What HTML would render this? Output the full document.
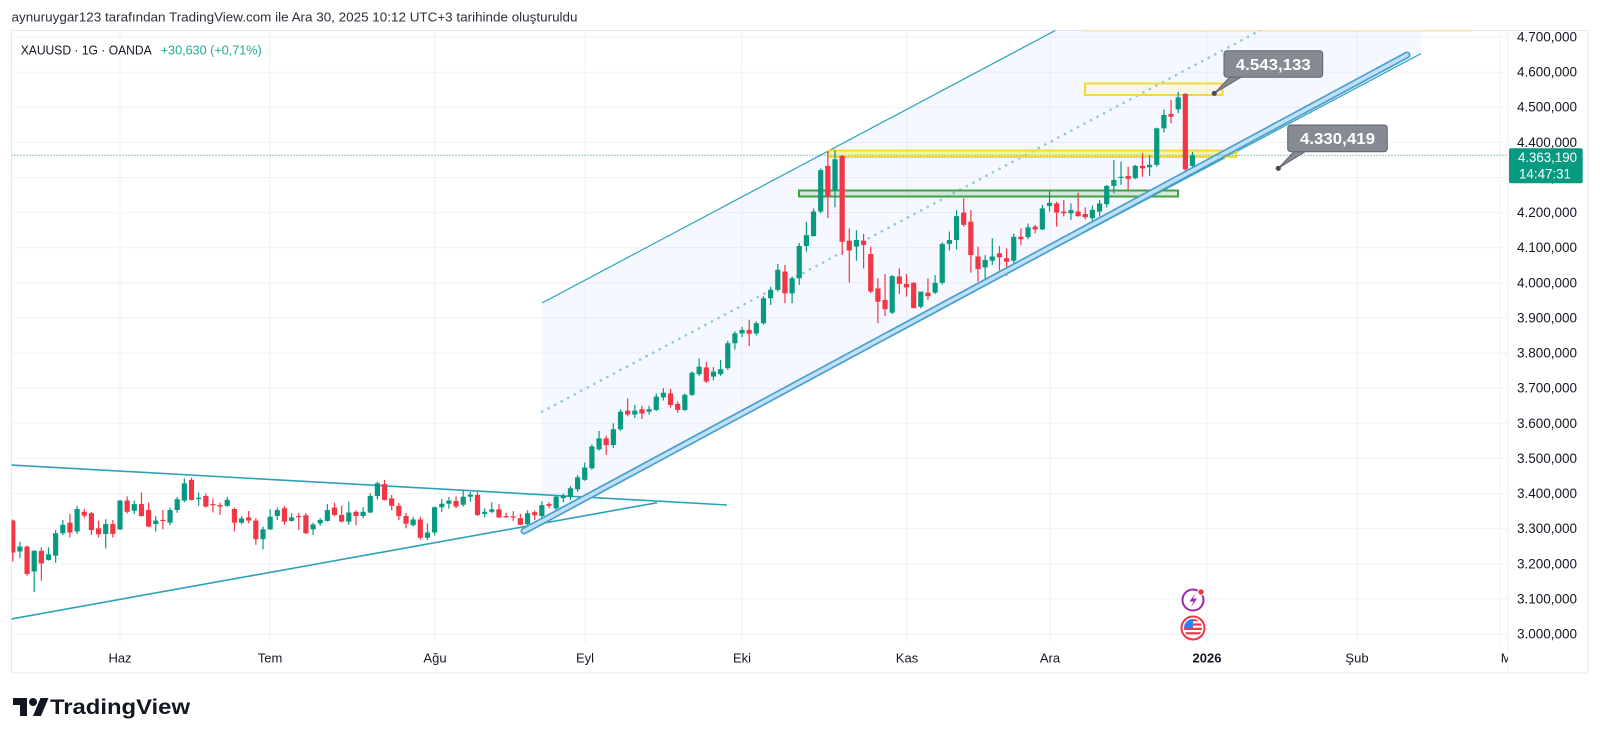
<!DOCTYPE html>
<html>
<head>
<meta charset="utf-8">
<style>
html,body{margin:0;padding:0;background:#fff;}
body{width:1600px;height:741px;overflow:hidden;}
svg{display:block;}
text{font-family:"Liberation Sans","DejaVu Sans",sans-serif;}
</style>
</head>
<body>
<svg id="s" width="1600" height="741" viewBox="0 0 1600 741" xmlns="http://www.w3.org/2000/svg">
  <defs>
    <clipPath id="pane"><rect x="11.5" y="30.5" width="1496.5" height="612.5"/></clipPath>
    <clipPath id="taxis"><rect x="11.5" y="643" width="1496.5" height="30"/></clipPath>
    <clipPath id="flagc"><circle cx="1193" cy="628" r="9"/></clipPath>
  </defs>
  <rect x="0" y="0" width="1600" height="741" fill="#ffffff"/>

  <!-- header -->
  <text x="11.5" y="21.7" font-size="13" fill="#2a2e39" textLength="566" lengthAdjust="spacingAndGlyphs">aynuruygar123 tarafından TradingView.com ile Ara 30, 2025 10:12 UTC+3 tarihinde oluşturuldu</text>

  <!-- outer frame -->
  <rect x="11.5" y="30.5" width="1576.5" height="642.5" fill="#ffffff" stroke="#e6e8ee" stroke-width="1"/>

  <!-- grid -->
  <g id="grid" stroke="#f0f2f6" stroke-width="1"></g>

  <g clip-path="url(#pane)">
    <!-- channel fill -->
    <polygon points="542,303 1421,-163.7 1421,53.6 542,520.4" fill="#2962ff" fill-opacity="0.045"/>
    <!-- top yellow line -->
    <line x1="1083" y1="30.5" x2="1472" y2="30.5" stroke="#f7e48a" stroke-width="2"/>
    <!-- channel upper -->
    <line x1="542" y1="303" x2="1421" y2="-163.7" stroke="#2aa3b6" stroke-width="1.2"/>
    <!-- channel middle dotted -->
    <line x1="542" y1="411.7" x2="1421" y2="-55" stroke="#93c6de" stroke-width="2.6" stroke-dasharray="0.1 7.3" stroke-linecap="round"/>
    <!-- channel lower thin -->
    <line x1="542" y1="520.4" x2="1421" y2="53.6" stroke="#2aa3b6" stroke-width="1.2"/>
    <!-- triangle lines -->
    <line x1="11" y1="465" x2="727" y2="505" stroke="#2aa3b6" stroke-width="1.6"/>
    <line x1="11" y1="619" x2="657" y2="502.7" stroke="#2aa3b6" stroke-width="1.6"/>

    <!-- green zone -->
    <rect x="799" y="190.5" width="379" height="6" fill="#4caf50" fill-opacity="0.22" stroke="#43a047" stroke-width="2"/>
    <!-- yellow zone 4370 -->
    <rect x="828.5" y="150.5" width="408" height="6.5" fill="#ffeb3b" fill-opacity="0.45" stroke="#f5d83a" stroke-width="2"/>
    <!-- yellow zone 4543 -->
    <rect x="1085" y="83.5" width="137.5" height="11.5" fill="#ffeb3b" fill-opacity="0.12" stroke="#f5d83a" stroke-width="2"/>

    <!-- candles -->
    <g id="candles"></g>

    <!-- blue band trendline -->
    <line x1="524" y1="531" x2="1407" y2="55" stroke="#4a9fd0" stroke-width="7" stroke-linecap="round"/>
    <line x1="524" y1="531" x2="1407" y2="55" stroke="#c0e0f5" stroke-width="3.6" stroke-linecap="round"/>

    <!-- current price dotted line -->
    <line x1="11.5" y1="155.3" x2="1508" y2="155.3" stroke="#089981" stroke-width="1" stroke-dasharray="1 2"/>

    <!-- event icons -->
    <circle cx="1193" cy="600" r="10.5" fill="#ffffff" stroke="#9c27b0" stroke-width="2"/>
    <path d="M1195.5,593 L1189.5,601.5 L1193.5,601.5 L1191,607.5 L1197,598.5 L1193,598.5 Z" fill="#9c27b0"/>
    <circle cx="1201" cy="592" r="3.2" fill="#f23645" stroke="#fff" stroke-width="1"/>
    <circle cx="1193" cy="628" r="11.5" fill="#ffffff" stroke="#f23645" stroke-width="2"/>
    <g clip-path="url(#flagc)">
      <rect x="1184" y="619" width="18" height="18" fill="#ffffff"/>
      <rect x="1184" y="619" width="18" height="2.2" fill="#f23645"/>
      <rect x="1184" y="623.4" width="18" height="2.2" fill="#f23645"/>
      <rect x="1184" y="627.8" width="18" height="2.2" fill="#f23645"/>
      <rect x="1184" y="632.2" width="18" height="2.2" fill="#f23645"/>
      <rect x="1184" y="619" width="9" height="9" fill="#2f80ed"/>
    </g>
  </g>

  <!-- callouts -->
  <g>
    <path d="M1231,76 L1214.3,93.3 L1243,76 Z" fill="#868a93" stroke="#5f626b" stroke-width="1"/>
    <rect x="1224" y="50.7" width="98.7" height="26.6" rx="3" fill="#868a93" stroke="#5f626b" stroke-width="1"/>
    <circle cx="1214.3" cy="93.3" r="2.6" fill="#4a4d55"/>
    <text x="1273.3" y="69.8" font-size="16" font-weight="bold" fill="#ffffff" text-anchor="middle" textLength="75" lengthAdjust="spacingAndGlyphs">4.543,133</text>

    <path d="M1295,150.5 L1278.3,168.3 L1307,150.5 Z" fill="#868a93" stroke="#5f626b" stroke-width="1"/>
    <rect x="1287.7" y="125" width="99.6" height="26.7" rx="3" fill="#868a93" stroke="#5f626b" stroke-width="1"/>
    <circle cx="1278.3" cy="168.3" r="2.6" fill="#4a4d55"/>
    <text x="1337.5" y="144" font-size="16" font-weight="bold" fill="#ffffff" text-anchor="middle" textLength="75" lengthAdjust="spacingAndGlyphs">4.330,419</text>
  </g>

  <!-- symbol line -->
  <text x="20.7" y="54.5" font-size="13" fill="#131722" textLength="131" lengthAdjust="spacingAndGlyphs">XAUUSD · 1G · OANDA</text>
  <text x="160.7" y="54.5" font-size="13" fill="#22ab94" textLength="101" lengthAdjust="spacingAndGlyphs">+30,630 (+0,71%)</text>

  <!-- axis separators -->
  <line x1="1508" y1="30.5" x2="1508" y2="673" stroke="#f0f2f6" stroke-width="1"/>

  <!-- price labels -->
  <g font-size="13.5" fill="#131722" text-anchor="end">
    <text x="1577" y="41.5">4.700,000</text>
    <text x="1577" y="76.6">4.600,000</text>
    <text x="1577" y="111.7">4.500,000</text>
    <text x="1577" y="146.9">4.400,000</text>
    <text x="1577" y="182">4.300,000</text>
    <text x="1577" y="217.1">4.200,000</text>
    <text x="1577" y="252.2">4.100,000</text>
    <text x="1577" y="287.3">4.000,000</text>
    <text x="1577" y="322.5">3.900,000</text>
    <text x="1577" y="357.6">3.800,000</text>
    <text x="1577" y="392.7">3.700,000</text>
    <text x="1577" y="427.8">3.600,000</text>
    <text x="1577" y="462.9">3.500,000</text>
    <text x="1577" y="498.1">3.400,000</text>
    <text x="1577" y="533.2">3.300,000</text>
    <text x="1577" y="568.3">3.200,000</text>
    <text x="1577" y="603.4">3.100,000</text>
    <text x="1577" y="638.5">3.000,000</text>
  </g>

  <!-- current price label -->
  <rect x="1509" y="148.3" width="73.7" height="35" rx="2" fill="#089981"/>
  <text x="1577" y="162" font-size="13.5" fill="#ffffff" text-anchor="end" textLength="59" lengthAdjust="spacingAndGlyphs">4.363,190</text>
  <text x="1571" y="178.5" font-size="13.5" fill="#ffffff" text-anchor="end" textLength="52" lengthAdjust="spacingAndGlyphs">14:47:31</text>

  <!-- time labels -->
  <g font-size="13" fill="#131722" text-anchor="middle" clip-path="url(#taxis)">
    <text x="120" y="662.5">Haz</text>
    <text x="270" y="662.5">Tem</text>
    <text x="435" y="662.5">Ağu</text>
    <text x="585" y="662.5">Eyl</text>
    <text x="742" y="662.5">Eki</text>
    <text x="907" y="662.5">Kas</text>
    <text x="1050" y="662.5">Ara</text>
    <text x="1207" y="662.5" font-weight="bold">2026</text>
    <text x="1357" y="662.5">Şub</text>
    <text x="1512" y="662.5">Mar</text>
  </g>

  <!-- logo -->
  <g transform="translate(13,694)" fill="#131722">
    <path d="M14 22H7V11H0V4h14v18z"/>
    <circle cx="20" cy="8" r="4"/>
    <path d="M28 22h-8l7.5-18h8L28 22z"/>
  </g>
  <text x="50" y="714" font-size="21" font-weight="bold" fill="#131722" textLength="140" lengthAdjust="spacingAndGlyphs">TradingView</text>
</svg>
<script>
(function(){
  var NS="http://www.w3.org/2000/svg";
  function Y(p){return 37+(4700-p)*0.35118;}
  function X(i){return 120+7.15*i;}
  var g=document.getElementById("grid");
  var vx=[120,270,435,585,742,907,1050,1207,1357,1500];
  vx.forEach(function(x){var l=document.createElementNS(NS,"line");l.setAttribute("x1",x);l.setAttribute("x2",x);l.setAttribute("y1",30.5);l.setAttribute("y2",643);g.appendChild(l);});
  for(var p=4700;p>=3000;p-=100){var y=Y(p);var l=document.createElementNS(NS,"line");l.setAttribute("x1",11.5);l.setAttribute("x2",1508);l.setAttribute("y1",y);l.setAttribute("y2",y);g.appendChild(l);}
  var d=[
[-15,3323,3326,3206,3232],[-14,3235,3263,3216,3249],[-13,3249,3252,3166,3171],[-12,3178,3239,3119,3237],
[-11,3237,3247,3152,3201],[-10,3211,3247,3209,3227],[-9,3223,3296,3203,3287],[-8,3287,3325,3282,3311],
[-7,3317,3342,3275,3289],[-6,3292,3365,3285,3356],[-5,3348,3356,3330,3337],[-4,3344,3348,3282,3296],
[-3,3301,3323,3275,3284],[-2,3285,3327,3244,3313],[-1,3313,3325,3275,3285],
[0,3298,3382,3296,3380],[1,3380,3392,3343,3348],[2,3351,3380,3342,3370],[3,3370,3403,3334,3336],
[4,3353,3374,3304,3306],[5,3313,3336,3292,3323],[6,3325,3353,3298,3322],[7,3317,3360,3310,3353],
[8,3353,3390,3345,3384],[9,3380,3443,3375,3429],[10,3439,3445,3380,3382],[11,3384,3403,3365,3388],
[12,3393,3400,3360,3363],[13,3370,3386,3346,3368],[14,3367,3374,3339,3363],[15,3365,3391,3362,3382],
[16,3356,3360,3292,3317],[17,3317,3336,3312,3329],[18,3332,3350,3315,3323],[19,3323,3330,3254,3270],
[20,3270,3306,3241,3298],[21,3298,3355,3296,3334],[22,3336,3360,3325,3353],[23,3358,3365,3311,3320],
[24,3322,3344,3320,3332],[25,3336,3345,3296,3334],[26,3338,3345,3284,3287],[27,3298,3317,3282,3312],
[28,3315,3330,3308,3325],[29,3322,3370,3320,3353],[30,3360,3374,3336,3339],[31,3339,3365,3318,3320],
[32,3320,3377,3311,3346],[33,3348,3352,3309,3336],[34,3336,3361,3330,3348],[35,3346,3401,3344,3393],
[36,3393,3434,3383,3429],[37,3427,3439,3380,3382],[38,3386,3396,3352,3365],[39,3365,3373,3324,3336],
[40,3336,3345,3301,3314],[41,3310,3334,3306,3326],[42,3326,3334,3268,3274],[43,3274,3315,3268,3289],
[44,3289,3363,3281,3361],[45,3361,3385,3347,3371],[46,3371,3390,3357,3380],[47,3379,3392,3358,3363],
[48,3368,3408,3363,3391],[49,3391,3405,3377,3397],[50,3396,3404,3336,3339],[51,3342,3358,3332,3348],
[52,3348,3375,3344,3355],[53,3355,3370,3330,3332],[54,3336,3345,3330,3335],[55,3335,3350,3322,3332],
[56,3330,3342,3310,3311],[57,3313,3352,3310,3344],[58,3347,3352,3324,3338],[59,3336,3378,3320,3367],
[60,3370,3375,3358,3365],[61,3358,3393,3352,3391],[62,3387,3400,3375,3393],[63,3391,3422,3382,3415],
[64,3412,3453,3405,3446],[65,3439,3488,3436,3474],[66,3472,3540,3468,3534],[67,3526,3578,3522,3557],
[68,3557,3565,3510,3538],[69,3538,3600,3530,3583],[70,3583,3640,3578,3633],[71,3636,3671,3620,3625],
[72,3625,3652,3615,3636],[73,3640,3650,3612,3628],[74,3633,3650,3625,3640],[75,3638,3685,3635,3676],
[76,3674,3700,3665,3687],[77,3685,3698,3645,3652],[78,3655,3662,3630,3638],[79,3638,3685,3635,3681],
[80,3681,3748,3678,3744],[81,3740,3785,3735,3761],[82,3759,3775,3715,3719],[83,3733,3760,3722,3747],
[84,3740,3780,3735,3754],[85,3757,3835,3752,3828],[86,3828,3862,3810,3856],[87,3856,3875,3845,3866],
[88,3866,3895,3820,3855],[89,3856,3890,3850,3885],[90,3885,3962,3880,3956],[91,3956,3989,3937,3980],
[92,3980,4054,3975,4037],[93,4032,4051,3942,3970],[94,3970,4018,3942,4013],[95,4013,4113,3994,4105],
[96,4105,4174,4089,4136],[97,4133,4212,4132,4203],[98,4203,4326,4198,4321],[99,4333,4374,4184,4247],
[100,4264,4378,4215,4352],[101,4361,4364,4079,4117],[102,4120,4155,4001,4092],[103,4103,4150,4063,4122],
[104,4120,4139,4041,4108],[105,4082,4103,3970,3975],[106,3984,4013,3885,3946],[107,3951,4025,3906,3925],
[108,3915,4022,3911,4019],[109,4018,4041,3968,3997],[110,3997,4025,3961,3987],[111,4000,4002,3928,3928],
[112,3932,3975,3927,3975],[113,3972,4013,3951,3962],[114,3972,4022,3968,4000],[115,4000,4115,3995,4111],
[116,4111,4146,4092,4122],[117,4122,4207,4095,4190],[118,4200,4241,4160,4165],[119,4174,4207,4029,4079],
[120,4075,4103,4003,4039],[121,4044,4079,3994,4065],[122,4063,4127,4051,4075],[123,4084,4105,4035,4073],
[124,4070,4098,4020,4060],[125,4063,4140,4055,4131],[126,4131,4155,4108,4124],[127,4130,4169,4124,4158],
[128,4160,4165,4141,4152],[129,4152,4222,4150,4212],[130,4219,4260,4203,4228],[131,4226,4231,4160,4200],
[132,4203,4236,4189,4198],[133,4198,4226,4179,4207],[134,4203,4257,4188,4190],[135,4196,4215,4180,4187],
[136,4184,4220,4175,4208],[137,4203,4236,4189,4226],[138,4224,4279,4215,4276],[139,4276,4350,4255,4293],
[140,4300,4345,4279,4302],[141,4304,4331,4266,4296],[142,4298,4336,4295,4333],[143,4333,4369,4302,4326],
[144,4329,4364,4304,4336],[145,4336,4442,4330,4440],[146,4440,4494,4428,4478],[147,4481,4521,4454,4473],
[148,4494,4544,4483,4528],[149,4538,4540,4298,4323],[150,4333,4373,4326,4363]
  ];
  var c=document.getElementById("candles");
  d.forEach(function(k){
    var x=X(k[0]),o=k[1],h=k[2],l=k[3],cl=k[4];
    var col=cl>=o?"#089981":"#f23645";
    var w=document.createElementNS(NS,"rect");
    w.setAttribute("x",(x-0.6).toFixed(2));w.setAttribute("width","1.2");
    w.setAttribute("y",Y(h).toFixed(2));w.setAttribute("height",Math.max(1,Y(l)-Y(h)).toFixed(2));
    w.setAttribute("fill",col);c.appendChild(w);
    var b=document.createElementNS(NS,"rect");
    var top=Y(Math.max(o,cl)),bot=Y(Math.min(o,cl));
    b.setAttribute("x",(x-2.6).toFixed(2));b.setAttribute("width","5.2");
    b.setAttribute("y",top.toFixed(2));b.setAttribute("height",Math.max(1.2,bot-top).toFixed(2));
    b.setAttribute("fill",col);c.appendChild(b);
  });
})();
</script>
</body>
</html>
